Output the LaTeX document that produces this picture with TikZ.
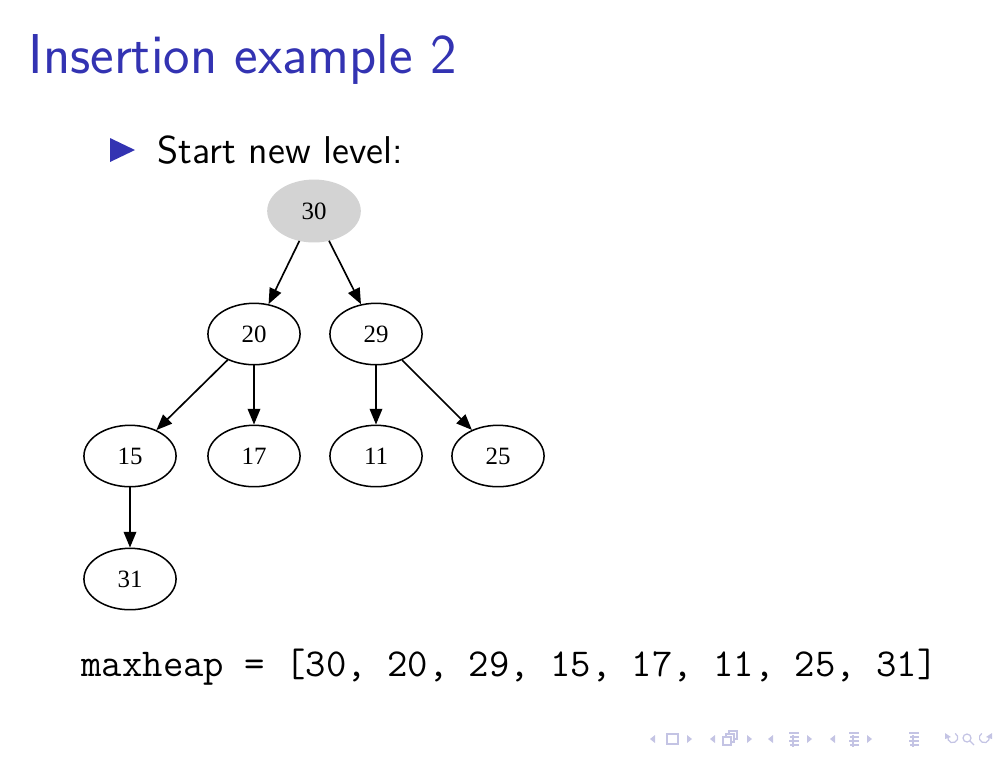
\documentclass[tikz,border=0pt]{standalone}
\usepackage{fontspec}
\newfontfamily\treefont{Liberation Serif}
\usetikzlibrary{positioning, arrows.meta, shapes}
\definecolor{structblue}{rgb}{0.2,0.2,0.7}
\definecolor{navgray}{RGB}{196,196,228}
\definecolor{nodegray}{RGB}{211,211,211}

\begin{document}
\begin{tikzpicture}[x=0.127mm, y=-0.127mm,
    heapnode/.style={ellipse, draw, line width=0.55pt, minimum width=11.7mm, minimum height=7.8mm, inner sep=0pt, font=\treefont\fontsize{9}{10}\selectfont},
    rootnode/.style={heapnode, draw=nodegray, fill=nodegray},
    edge/.style={-{Triangle[length=2mm, width=1.6mm]}, line width=0.6pt},
    nav/.style={draw=navgray, line width=0.45pt}]
    \useasboundingbox (0,0) rectangle (1008,756);

    % Title and bullet
    \node[anchor=base west, inner sep=0pt, text=structblue, font=\sffamily\fontsize{20.3}{24}\selectfont] (title) at (28,73) {Insertion example 2};
    \fill[structblue] (110,138) -- (135,150) -- (110,162) -- cycle;
    \node[anchor=base west, inner sep=0pt, font=\sffamily\fontsize{14}{17}\selectfont] (item) at (157,163) {Start new level:};

    % Heap tree
    \node[rootnode] (n30) at (314,211) {30};
    \node[heapnode] (n20) at (254,334) {20};
    \node[heapnode] (n29) at (376,334) {29};
    \node[heapnode] (n15) at (130,456) {15};
    \node[heapnode] (n17) at (254,456) {17};
    \node[heapnode] (n11) at (376,456) {11};
    \node[heapnode] (n25) at (498,456) {25};
    \node[heapnode] (n31) at (130,579) {31};

    \draw[edge] (n30) -- (n20);
    \draw[edge] (n30) -- (n29);
    \draw[edge] (n20) -- (n15);
    \draw[edge] (n20) -- (n17);
    \draw[edge] (n29) -- (n11);
    \draw[edge] (n29) -- (n25);
    \draw[edge] (n15) -- (n31);

    % Array
    \node[anchor=base west, inner sep=0pt, font=\ttfamily\fontsize{14.3}{16}\selectfont] (heap) at (81,676) {maxheap = [30, 20, 29, 15, 17, 11, 25, 31]};

    % Navigation symbols
    \foreach \x in {652, 712, 770, 832}
        \fill[navgray] (\x+3,735) -- (\x-2,739) -- (\x+3,743) -- cycle;
    \foreach \x in {690, 750, 810, 870}
        \fill[navgray] (\x-3,735) -- (\x+2,739) -- (\x-3,743) -- cycle;
    \draw[nav] (667,734) rectangle (678,744);
    \draw[nav, fill=white] (729,731) rectangle (737,739);
    \draw[nav, fill=white] (726,734) rectangle (734,742);
    \draw[nav, fill=white] (723,737) rectangle (731,745);
    \foreach \x in {794, 854, 914} {
        \draw[nav] (\x-5,733) -- (\x+5,733);
        \draw[nav] (\x-4,737) -- (\x+5,737);
        \draw[nav] (\x-5,741) -- (\x+5,741);
        \draw[nav] (\x-4,745) -- (\x+5,745);
        \draw[nav] (\x-1,735) -- (\x-1,747);
    }
    \draw[nav] (948,736) arc[start angle=200, end angle=-60, radius=5];
    \fill[navgray] (945,733) -- (951,737) -- (945,739) -- cycle;
    \draw[nav] (967,738) circle[radius=4];
    \draw[nav] (970,741) -- (974,745);
    \draw[nav] (989,736) arc[start angle=-20, end angle=240, radius=5];
    \fill[navgray] (992,733) -- (986,737) -- (992,739) -- cycle;
\end{tikzpicture}
\end{document}
